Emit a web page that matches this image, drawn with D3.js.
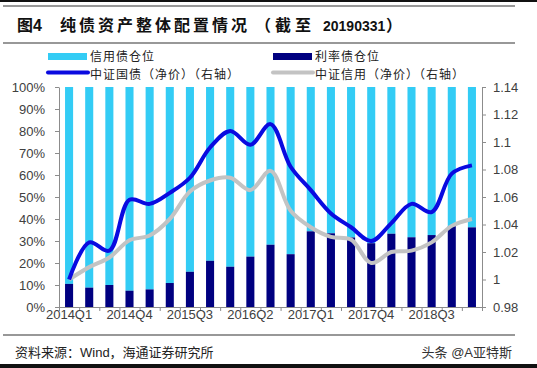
<!DOCTYPE html>
<html>
<head>
<meta charset="utf-8">
<script src="https://cdn.jsdelivr.net/npm/d3@7"></script>
<style>
  body { margin: 0; background: #fff; }
  svg { display: block; font-family: "Liberation Sans", Arial, "Noto Sans CJK SC", sans-serif; }
</style>
</head>
<body>
<div id="chart"></div>
<script>
// quarters 2014Q1 .. 2019Q1
const quarters = ["2014Q1", "2014Q2", "2014Q3", "2014Q4", "2015Q1", "2015Q2", "2015Q3",
    "2015Q4", "2016Q1", "2016Q2", "2016Q3", "2016Q4", "2017Q1", "2017Q2",
    "2017Q3", "2017Q4", "2018Q1", "2018Q2", "2018Q3", "2018Q4", "2019Q1"];
const shownLabels = ["2014Q1", "2014Q4", "2015Q3", "2016Q2", "2017Q1", "2017Q4", "2018Q3"];

// 利率债仓位 (%)
const rateShare = [10.5, 8.8, 10, 7.4, 8, 10.9, 16, 21, 18.3, 22.9, 28.3,
    24, 34.4, 33.5, 31.6, 29, 33.3, 31.7, 32.7, 36.8, 36.2];
// 信用债仓位 (%)
const creditShare = [89.5, 91.2, 90, 92.6, 92, 89.1, 84, 79, 81.7, 77.1, 71.7,
    76, 65.6, 66.5, 68.4, 71, 66.7, 68.3, 67.3, 63.2, 63.8];
// 中证国债（净价），右轴
const govIndex = [1.0, 1.027, 1.021, 1.058, 1.055, 1.063, 1.074, 1.096, 1.108, 1.098, 1.113,
    1.082, 1.065, 1.048, 1.038, 1.028, 1.041, 1.055, 1.049, 1.077, 1.083];
// 中证信用（净价），右轴
const creditIndex = [1.0, 1.009, 1.016, 1.0285, 1.032, 1.044, 1.064, 1.072, 1.074, 1.065, 1.079,
    1.050, 1.038, 1.031, 1.029, 1.012, 1.020, 1.021, 1.027, 1.039, 1.044];

const leftTicks = [0, 10, 20, 30, 40, 50, 60, 70, 80, 90, 100];
const rightTicks = [0.98, 1.0, 1.02, 1.04, 1.06, 1.08, 1.1, 1.12, 1.14];

const W = 537, H = 368;
const plot = { left: 59, right: 482, top: 87, bottom: 307 };

const cCredit = "#33CCF5", cRate = "#000080", cGov = "#0A0AE0", cCreditIdx = "#C3C3C3";
const axisColor = "#8c8c8c", textColor = "#404040";

const svg = d3.select("#chart").append("svg")
    .attr("width", W).attr("height", H);

// frame lines
svg.append("rect").attr("x", 0).attr("y", 0).attr("width", W).attr("height", 2).attr("fill", "#111");
svg.append("rect").attr("x", 0).attr("y", 364).attr("width", W).attr("height", 4).attr("fill", "#111");
[6, 43, 335].forEach(yy => {
    svg.append("line").attr("x1", 3).attr("x2", 515).attr("y1", yy).attr("y2", yy)
        .attr("stroke", "#333").attr("stroke-width", 1.2);
});

// title
const title = svg.append("text").attr("y", 31).attr("fill", "#111").attr("font-weight", "bold");
title.append("tspan").attr("x", 17).attr("font-size", 16).text("图4");
title.append("tspan").attr("x", 60).attr("font-size", 16).attr("letter-spacing", 3)
    .attr("font-family", "Noto Sans CJK SC").text("纯债资产整体配置情况");
title.append("tspan").attr("x", 255).attr("font-size", 16).attr("letter-spacing", 4)
    .attr("font-family", "Noto Sans CJK SC").text("（截至");
title.append("tspan").attr("x", 323).attr("font-size", 14).text("20190331");
title.append("tspan").attr("x", 386).attr("font-size", 16)
    .attr("font-family", "Noto Sans CJK SC").text("）");

// scales
const x = d3.scaleBand().domain(quarters).range([plot.left, plot.right])
    .paddingInner(0.6).paddingOuter(0.3);
const bounds = d3.scaleLinear().domain([0, quarters.length]).range([plot.left, plot.right]);
const y = d3.scaleLinear().domain([0, 100]).range([plot.bottom, plot.top]);
const y2 = d3.scaleLinear().domain([0.98, 1.14]).range([plot.bottom, plot.top]);

// bars
const rows = quarters.map((q, i) => ({ q, rate: rateShare[i], credit: creditShare[i] }));
const g = svg.append("g");
g.selectAll(".credit").data(rows).enter().append("rect")
    .attr("class", "credit")
    .attr("x", d => x(d.q)).attr("width", x.bandwidth())
    .attr("y", d => y(d.rate + d.credit))
    .attr("height", d => y(d.rate) - y(d.rate + d.credit))
    .attr("fill", cCredit);
g.selectAll(".rate").data(rows).enter().append("rect")
    .attr("class", "rate")
    .attr("x", d => x(d.q)).attr("width", x.bandwidth())
    .attr("y", d => y(d.rate))
    .attr("height", d => y(0) - y(d.rate))
    .attr("fill", cRate);

// lines
const cx = q => x(q) + x.bandwidth() / 2;
const line = d3.line().x(d => cx(d.q)).y(d => y2(d.v)).curve(d3.curveCatmullRom);
svg.append("path")
    .datum(quarters.map((q, i) => ({ q, v: creditIndex[i] })))
    .attr("d", line).attr("fill", "none")
    .attr("stroke", cCreditIdx).attr("stroke-width", 4).attr("stroke-linejoin", "round");
svg.append("path")
    .datum(quarters.map((q, i) => ({ q, v: govIndex[i] })))
    .attr("d", line).attr("fill", "none")
    .attr("stroke", cGov).attr("stroke-width", 4).attr("stroke-linejoin", "round");

// axes
function styleAxis(sel) {
    sel.selectAll("path, line").attr("stroke", axisColor);
    sel.selectAll("text").attr("fill", textColor).attr("font-size", 13)
        .attr("font-family", "Liberation Sans, Arial, sans-serif");
}

svg.append("g")
    .attr("transform", `translate(${plot.left},0)`)
    .call(d3.axisLeft(y).tickValues(leftTicks).tickFormat(d => d + "%").tickSize(4).tickSizeOuter(0).tickPadding(10))
    .call(styleAxis);

svg.append("g")
    .attr("transform", `translate(${plot.right},0)`)
    .call(d3.axisRight(y2).tickValues(rightTicks).tickFormat(d => String(+d.toFixed(2))).tickSize(4).tickSizeOuter(0).tickPadding(7))
    .call(styleAxis);

svg.append("g")
    .attr("transform", `translate(0,${plot.bottom})`)
    .call(d3.axisBottom(bounds).ticks(quarters.length).tickFormat("").tickSize(4).tickSizeOuter(0))
    .call(styleAxis);

svg.append("g")
    .attr("transform", `translate(0,${plot.bottom})`)
    .call(d3.axisBottom(x).tickValues(shownLabels).tickSize(0).tickPadding(3))
    .call(styleAxis)
    .call(s => s.select(".domain").remove());

// legend
const legend = svg.append("g").attr("font-size", 12).attr("fill", "#222")
    .attr("font-family", "Noto Sans CJK SC");
const legendItems = [
    { label: "信用债仓位", type: "rect", color: cCredit, x: 48, y: 56.5, ty: 55.5 },
    { label: "利率债仓位", type: "rect", color: cRate, x: 273, y: 56.5, ty: 55.5 },
    { label: "中证国债（净价）（右轴）", type: "line", color: cGov, x: 48, y: 72.5, ty: 73.5 },
    { label: "中证信用（净价）（右轴）", type: "line", color: cCreditIdx, x: 273, y: 72.5, ty: 73.5 }
];
legendItems.forEach(it => {
    if (it.type === "rect") {
        legend.append("rect").attr("x", it.x).attr("y", it.y - 3.5).attr("width", 39).attr("height", 7)
            .attr("fill", it.color);
    } else {
        legend.append("line").attr("x1", it.x).attr("x2", it.x + 40).attr("y1", it.y).attr("y2", it.y)
            .attr("stroke", it.color).attr("stroke-width", 4).attr("stroke-linecap", "round");
    }
    legend.append("text").attr("x", it.x + 42).attr("y", it.ty)
        .attr("dominant-baseline", "central").attr("letter-spacing", 1).text(it.label);
});

// footer
svg.append("text").attr("x", 15).attr("y", 352).attr("dominant-baseline", "central")
    .attr("font-size", 13).attr("fill", "#222").text("资料来源：Wind，海通证券研究所");
svg.append("text").attr("x", 512).attr("y", 352).attr("dominant-baseline", "central")
    .attr("text-anchor", "end").attr("font-size", 13).attr("fill", "#333").text("头条 @A亚特斯");
</script>
</body>
</html>
